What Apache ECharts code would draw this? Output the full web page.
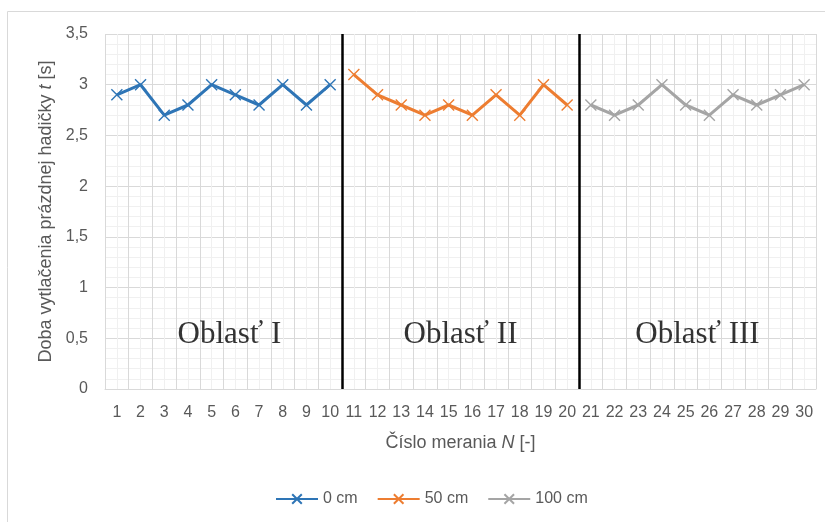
<!DOCTYPE html>
<html><head><meta charset="utf-8">
<script src="https://cdn.jsdelivr.net/npm/echarts@6/dist/echarts.min.js"></script>
<style>html,body{margin:0;padding:0;background:#fff}#c{width:825px;height:522px}</style>
</head><body><div id="c"></div>
<script>
const categories = ['1','2','3','4','5','6','7','8','9','10','11','12','13','14','15','16','17','18','19','20','21','22','23','24','25','26','27','28','29','30'];
const seriesNames = ['0 cm', '50 cm', '100 cm'];
const s0cm   = [2.9, 3.0, 2.7, 2.8, 3.0, 2.9, 2.8, 3.0, 2.8, 3.0];
const s50cm  = [3.1, 2.9, 2.8, 2.7, 2.8, 2.7, 2.9, 2.7, 3.0, 2.8];
const s100cm = [2.8, 2.7, 2.8, 3.0, 2.8, 2.7, 2.9, 2.8, 2.9, 3.0];
const seriesStart = [1, 11, 21];
const separators = [10.5, 20.5];
const regionNames = ['Oblasť I', 'Oblasť II', 'Oblasť III'];
const regionX = [5.75, 15.5, 25.5];
const regionY = [0.53, 0.53, 0.53];
const yTicks = ['0','0,5','1','1,5','2','2,5','3','3,5'];

const colors = ['#2E75B6', '#ED7D31', '#A5A5A5'];
const values = [s0cm, s50cm, s100cm];
const xSym = 'path://M0,0L10,10M0,10L10,0';
const gridMajor = '#d9d9d9', gridMinor = '#f0f0f0', txt = '#595959';
const font = 'Liberation Sans';

const lineSeries = values.map((arr, i) => ({
  name: seriesNames[i],
  type: 'line',
  xAxisIndex: 1,
  data: arr.map((v, k) => [seriesStart[i] + k, v]),
  symbol: xSym,
  symbolSize: 11,
  showAllSymbol: true,
  lineStyle: { color: colors[i], width: 3 },
  itemStyle: { color: colors[i], borderColor: colors[i], borderWidth: 1.4 },
  z: 3
}));
lineSeries[0].markLine = {
  silent: true, symbol: 'none', label: { show: false },
  lineStyle: { color: '#000', width: 2.5, type: 'solid' },
  data: separators.map(x => ({ xAxis: x }))
};
const regionSeries = {
  name: 'regions', type: 'scatter', xAxisIndex: 1, symbolSize: 0, silent: true,
  data: regionNames.map((n, i) => ({ name: n, value: [regionX[i], regionY[i]] })),
  label: { show: true, position: 'inside', formatter: p => p.name,
    color: '#000', fontFamily: 'Liberation Serif', fontSize: 31 }
};

const chart = echarts.init(document.getElementById('c'));
chart.setOption({
  animation: false,
  color: colors,
  graphic: [{ type: 'rect', shape: { x: 7.5, y: 11.5, width: 840, height: 540 },
    style: { fill: 'none', stroke: '#d9d9d9', lineWidth: 1 }, silent: true }],
  grid: { left: 105, right: 9, top: 34, bottom: 133 },
  legend: {
    data: seriesNames, bottom: 10, left: 270,
    itemWidth: 42, itemHeight: 12, itemGap: 19,
    textStyle: { color: txt, fontSize: 16, fontFamily: font }
  },
  xAxis: [{
    type: 'category', data: categories, boundaryGap: true,
    axisLine: { show: true, lineStyle: { color: gridMajor } },
    axisTick: { show: false },
    splitLine: { show: false },
    axisLabel: { color: txt, fontSize: 16, fontFamily: font, margin: 16 },
    name: '{a|Číslo merania }{i|N}{a| [-]}',
    nameLocation: 'middle', nameGap: 45,
    nameTextStyle: { rich: {
      a: { color: txt, fontSize: 18, fontFamily: font },
      i: { color: txt, fontSize: 18, fontFamily: font, fontStyle: 'italic' } } }
  }, {
    type: 'value', min: 0.5, max: 30.5, interval: 1, position: 'bottom',
    axisLine: { show: false }, axisTick: { show: false }, axisLabel: { show: false },
    splitLine: { show: true, lineStyle: { color: gridMajor, width: 1 } },
    minorTick: { show: false, splitNumber: 2 },
    minorSplitLine: { show: true, lineStyle: { color: gridMinor, width: 1 } }
  }],
  yAxis: {
    type: 'value', min: 0, max: 3.5, interval: 0.5,
    axisLine: { show: false }, axisTick: { show: false },
    axisLabel: { color: txt, fontSize: 16, fontFamily: font, margin: 17,
      formatter: (v) => yTicks[Math.round(v / 0.5)] },
    splitLine: { show: true, lineStyle: { color: gridMajor, width: 1 } },
    minorTick: { show: false, splitNumber: 5 },
    minorSplitLine: { show: true, lineStyle: { color: gridMinor, width: 1 } },
    name: '{a|Doba vytlačenia prázdnej hadičky }{i|t}{a| [s]}',
    nameLocation: 'middle', nameGap: 50, nameRotate: 90,
    nameTextStyle: { rich: {
      a: { color: txt, fontSize: 18, fontFamily: font },
      i: { color: txt, fontSize: 18, fontFamily: font, fontStyle: 'italic' } } }
  },
  series: [...lineSeries, regionSeries]
});
</script></body></html>
